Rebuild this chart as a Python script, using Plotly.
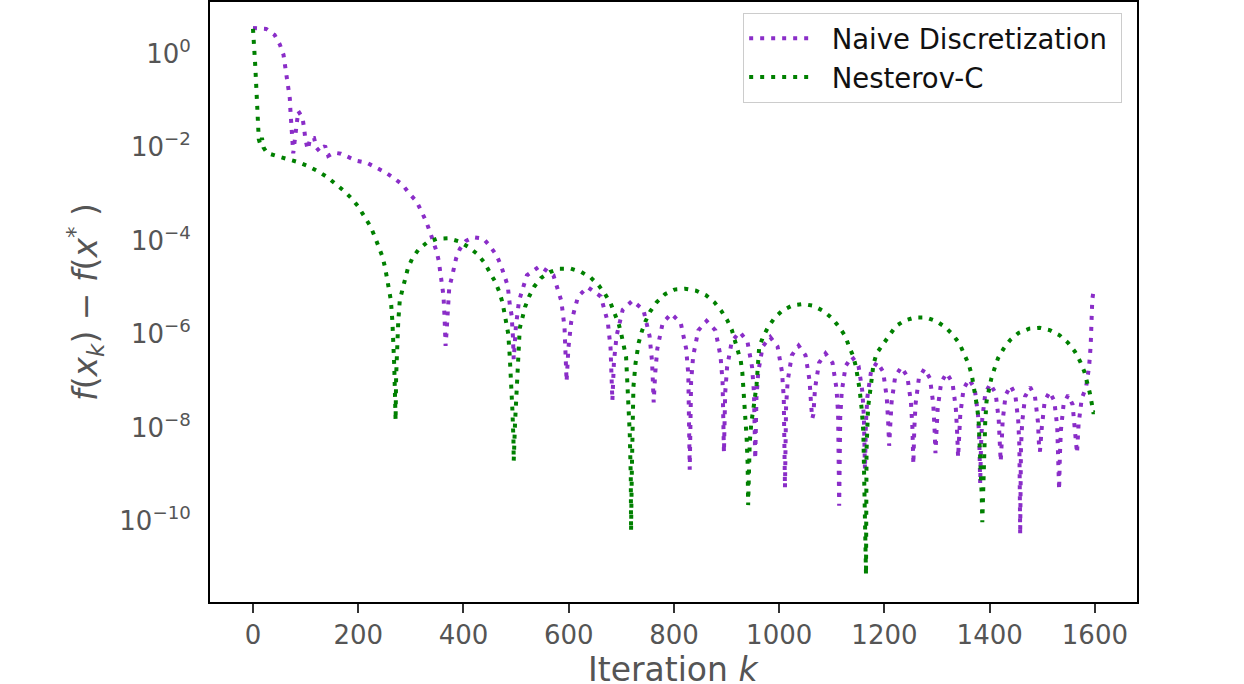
import plotly.graph_objects as go

# ---- data ----
naive_k = [0, 25, 41, 51, 58, 61, 65, 67, 70, 71, 72, 73.5, 75, 76.5,
           86, 94, 97, 99.5, 104, 109, 116, 121, 127, 137, 143, 154, 167, 182, 197,
           216, 234, 251, 267, 284, 297, 311, 320, 329, 336, 343, 349, 353, 356, 359,
           362, 364, 365, 366,
           368, 370, 373, 378, 386, 393, 405, 419, 438, 450, 462.5, 471, 477, 484, 488, 491.5, 494, 495.5,
           499.5, 505.5, 520.5, 545, 571, 586, 592, 596,
           599.5, 604.7, 617.8, 636, 661, 674.3, 679.5, 683,
           686, 691, 702.6, 721, 742, 753.6, 758.4, 761.5,
           764.2, 768.4, 778.6, 795, 812.9, 823.2, 827.3, 830,
           832.6, 836.5, 846.3, 862, 878.8, 888.5, 892.4, 895,
           897.4, 901, 909.9, 925, 939.6, 948.5, 952.1, 954.5,
           956.8, 960.2, 968.6, 983, 996.9, 1005.4, 1008.7, 1011,
           1013.1, 1016.2, 1024, 1037, 1050, 1057.8, 1060.9, 1063,
           1065, 1068.1, 1075.8, 1088, 1101.3, 1108.9, 1112, 1114,
           1116, 1118.9, 1126.3, 1138, 1150.8, 1158.1, 1161, 1163,
           1164.8, 1167.6, 1174.5, 1186, 1197.5, 1204.4, 1207.2, 1209,
           1210.8, 1213.6, 1220.5, 1232, 1243.5, 1250.4, 1253.2, 1255,
           1256.7, 1259.2, 1265.5, 1276, 1286.5, 1292.8, 1295.3, 1297,
           1298.7, 1301.3, 1307.8, 1318, 1329.3, 1335.7, 1338.3, 1340,
           1341.7, 1344.2, 1350.5, 1361, 1371.5, 1377.8, 1380.3, 1382,
           1383.6, 1385.9, 1391.8, 1401, 1411.3, 1417.1, 1419.4, 1421,
           1422.5, 1424.7, 1430.3, 1440, 1448.8, 1454.3, 1456.5, 1458,
           1459.5, 1461.8, 1467.4, 1477, 1486.1, 1491.8, 1494, 1495.5,
           1499.2, 1504.6, 1514, 1522.9, 1528.4, 1530.5, 1532,
           1533.4, 1535.4, 1540.5, 1549, 1557.5, 1562.6, 1566,
           1569, 1575, 1583, 1589, 1592, 1595, 1598]
naive_f = [4.5, 4.3, 3.2, 2.0, 1.2, 0.70, 0.42, 0.24, 0.14, 0.082, 0.048, 0.028, 0.016, 0.0094,
           0.075, 0.055, 0.033, 0.019, 0.0113, 0.020, 0.020, 0.0122, 0.0102, 0.0136, 0.0083, 0.0097, 0.0092, 0.0079, 0.0065,
           0.0059, 0.0047, 0.0037, 0.0028, 0.0020, 0.0013, 8.7e-4, 5.4e-4, 3.3e-4, 2.0e-4, 1.2e-4, 7.4e-5, 4.7e-5, 2.9e-5, 1.73e-5,
           8.5e-6, 3.0e-6, 1.3e-6, 7.1e-7,
           1.5e-6, 4.0e-6, 1.28e-5, 2.1e-5, 5.3e-5, 8.4e-5, 1.26e-4, 1.5e-4, 1.4e-4, 9.8e-5, 6.3e-5, 3.8e-5, 2.3e-5, 1.4e-5, 5.5e-6, 3.2e-6, 1.12e-6, 3.7e-7,
           1.8e-6, 6.5e-6, 2.3e-5, 3.63e-5, 2.3e-5, 6.5e-6, 1.8e-6, 1.23e-7,
           6.5e-7, 2.3e-6, 8.1e-6, 1.29e-5, 8.1e-6, 2.3e-6, 6.5e-7, 4.8e-8,
           3.3e-7, 1.17e-6, 4.2e-6, 6.6e-6, 4.2e-6, 1.17e-6, 3.3e-7, 4.4e-8,
           1.74e-7, 6.2e-7, 2.2e-6, 3.47e-6, 2.2e-6, 6.2e-7, 1.74e-7, 1.6e-9,
           1.22e-7, 4.3e-7, 1.53e-6, 2.43e-6, 1.53e-6, 4.3e-7, 1.22e-7, 3.7e-9,
           7.1e-8, 2.5e-7, 8.9e-7, 1.41e-6, 8.9e-7, 2.5e-7, 7.1e-8, 2.7e-9,
           5.5e-8, 1.96e-7, 6.9e-7, 1.1e-6, 6.9e-7, 1.96e-7, 5.5e-8, 6.6e-10,
           3.6e-8, 1.28e-7, 4.5e-7, 7.2e-7, 4.5e-7, 1.28e-7, 3.6e-8, 2.0e-8,
           2.45e-8, 8.7e-8, 3.1e-7, 4.9e-7, 3.1e-7, 8.7e-8, 2.45e-8, 2.7e-10,
           2.1e-8, 7.5e-8, 2.65e-7, 4.2e-7, 2.65e-7, 7.5e-8, 2.1e-8, 1.6e-9,
           1.6e-8, 5.7e-8, 2.0e-7, 3.2e-7, 2.0e-7, 5.7e-8, 1.6e-8, 5.2e-9,
           1.25e-8, 4.45e-8, 1.58e-7, 2.5e-7, 1.58e-7, 4.45e-8, 1.25e-8, 2.1e-9,
           1.15e-8, 4.1e-8, 1.45e-7, 2.3e-7, 1.45e-7, 4.1e-8, 1.15e-8, 3.6e-9,
           9.3e-9, 3.3e-8, 1.17e-7, 1.86e-7, 1.17e-7, 3.3e-8, 9.3e-9, 2.95e-9,
           6.9e-9, 2.46e-8, 8.7e-8, 1.38e-7, 8.7e-8, 2.46e-8, 6.9e-9, 8.1e-10,
           5.5e-9, 1.96e-8, 6.9e-8, 1.1e-7, 6.9e-8, 1.96e-8, 5.5e-9, 2.4e-9,
           5.0e-9, 1.78e-8, 6.3e-8, 1.0e-7, 6.3e-8, 1.78e-8, 5.0e-9, 6.5e-11,
           4.65e-9, 1.66e-8, 5.9e-8, 9.3e-8, 5.9e-8, 1.66e-8, 4.65e-9, 3.9e-9,
           1.32e-8, 4.7e-8, 7.4e-8, 4.7e-8, 1.32e-8, 3.7e-9, 5.9e-10,
           3.15e-9, 1.12e-8, 4.0e-8, 6.3e-8, 4.0e-8, 1.12e-8, 3.6e-9,
           1.5e-8, 5.4e-8, 9.0e-8, 2.6e-7, 7.3e-7, 6.9e-6, 1.2e-5]

nesterov_k = [0, 2, 4, 6, 7.5, 9, 11, 14, 17, 20, 23, 27,
              45, 65, 85, 104, 123, 141, 157, 173, 188, 201, 212, 223, 231, 239,
              246, 251, 255, 259, 262, 265, 267, 268.5, 270, 271,
              272, 273, 274.5, 276, 279, 284, 288, 294.5, 303, 315, 331, 350, 371, 391, 410, 426,
              439, 450, 460, 468, 474, 478, 482, 485, 488, 491, 493, 495, 495.5,
              498, 501, 504, 507, 512, 517, 524.5, 534, 547, 564, 583, 604, 624, 642, 657, 669,
              680, 688, 695, 700, 704, 709, 711, 713, 716, 718, 718.5,
              720, 723, 727, 733, 739, 746, 755, 767, 783, 801, 821, 842, 861, 877, 890, 901,
              910, 916, 922, 927, 930, 933, 936, 938, 940, 941,
              944, 947, 952, 957, 962, 970, 979, 991, 1006.5, 1025.5, 1046, 1066, 1085, 1101, 1114,
              1125.5, 1133, 1141, 1146, 1150, 1153, 1157, 1160, 1161, 1163, 1165,
              1166, 1169, 1174, 1179, 1185, 1198, 1208.5, 1222, 1239, 1258.5, 1279, 1299, 1316, 1331,
              1343, 1352, 1360, 1366, 1370, 1374, 1376, 1379, 1380, 1381, 1383, 1385, 1386,
              1389, 1391.5, 1394, 1398, 1403, 1409, 1416, 1426.5, 1439, 1455, 1475, 1495, 1514,
              1533, 1549, 1562, 1572, 1580, 1585, 1590, 1594, 1597, 1600]
nesterov_f = [4.3, 2.4, 0.81, 0.285, 0.096, 0.033, 0.0187, 0.0145, 0.020, 0.0125, 0.011, 0.0095,
              0.0082, 0.0071, 0.0061, 0.0050, 0.0039, 0.0029, 0.0021, 0.00147, 0.0010, 6.6e-4, 4.1e-4, 2.6e-4, 1.6e-4, 9.8e-5,
              5.8e-5, 3.4e-5, 2.0e-5, 1.2e-5, 6.8e-6, 2.3e-6, 8.1e-7, 2.6e-7, 5.4e-8, 1.8e-8,
              1.6e-7, 4.2e-7, 8.1e-7, 2.3e-6, 6.8e-6, 1.15e-5, 1.95e-5, 3.3e-5, 5.4e-5, 8.3e-5, 1.17e-4, 1.4e-4, 1.43e-4, 1.23e-4, 9.2e-5, 6.6e-5,
              4.4e-5, 2.75e-5, 1.7e-5, 1.03e-5, 6.1e-6, 3.55e-6, 2.2e-6, 1.3e-6, 4.2e-7, 1.3e-7, 3.0e-8, 6.9e-9, 2.45e-9,
              1.6e-8, 1.1e-7, 5.8e-7, 1.7e-6, 2.85e-6, 4.8e-6, 8.0e-6, 1.3e-5, 2.0e-5, 2.7e-5, 3.2e-5, 3.2e-5, 2.7e-5, 2.05e-5, 1.4e-5, 9.2e-6,
              5.7e-6, 3.5e-6, 2.1e-6, 1.26e-6, 7.3e-7, 4.2e-7, 1.45e-7, 5.0e-8, 9.6e-9, 1.1e-9, 7.8e-11,
              1.6e-9, 9.5e-8, 3.0e-7, 8.3e-7, 1.46e-6, 2.4e-6, 3.9e-6, 6.1e-6, 9.1e-6, 1.14e-5, 1.19e-5, 1.08e-5, 8.6e-6, 6.1e-6, 4.0e-6, 2.55e-6,
              1.56e-6, 9.4e-7, 5.6e-7, 3.4e-7, 1.9e-7, 6.4e-8, 2.2e-8, 8.1e-9, 2.2e-9, 2.8e-10,
              6.0e-9, 1.6e-8, 3.9e-8, 1.04e-7, 6.8e-7, 1.15e-6, 1.8e-6, 2.8e-6, 4.1e-6, 5.25e-6, 5.6e-6, 5.1e-6, 3.9e-6, 2.75e-6, 1.8e-6,
              1.16e-6, 6.8e-7, 4.2e-7, 2.5e-7, 1.45e-7, 8.1e-8, 3.0e-8, 1.0e-8, 2.2e-9, 1.6e-10, 8.9e-12,
              4.2e-9, 3.5e-8, 9.5e-8, 2.8e-7, 4.9e-7, 7.8e-7, 1.23e-6, 1.9e-6, 2.5e-6, 2.9e-6, 2.9e-6, 2.4e-6, 1.78e-6, 1.2e-6,
              7.8e-7, 4.8e-7, 2.9e-7, 1.7e-7, 9.9e-8, 5.9e-8, 3.6e-8, 1.85e-8, 1.1e-8, 4.2e-9, 1.1e-9, 4.2e-10, 1.2e-10,
              5.9e-9, 1.6e-8, 4.6e-8, 8.1e-8, 1.4e-7, 2.3e-7, 3.9e-7, 6.2e-7, 9.5e-7, 1.35e-6, 1.66e-6, 1.74e-6, 1.55e-6,
              1.2e-6, 8.3e-7, 5.4e-7, 3.3e-7, 2.0e-7, 1.23e-7, 7.3e-8, 4.2e-8, 2.7e-8, 2.7e-8]

x_tick_vals = [0, 200, 400, 600, 800, 1000, 1200, 1400, 1600]
y_tick_vals = [1e0, 1e-2, 1e-4, 1e-6, 1e-8, 1e-10]
y_tick_text = ["10<sup>0</sup>", "10<sup>−2</sup>", "10<sup>−4</sup>",
               "10<sup>−6</sup>", "10<sup>−8</sup>", "10<sup>−10</sup>"]

series_names = ["Naive Discretization", "Nesterov-C"]
series_colors = ["#8a2dc8", "#008000"]
x_title = "Iteration <i>k</i>"

FONT = "DejaVu Sans"
NB = "\u00a0"
fig = go.Figure()
for name, xs, ys, col in [(series_names[0], naive_k, naive_f, series_colors[0]),
                          (series_names[1], nesterov_k, nesterov_f, series_colors[1])]:
    fig.add_trace(go.Scatter(x=xs, y=ys, mode="lines", name=NB + NB + name + NB,
                             line=dict(color=col, width=4, dash="4px,7px")))

fig.update_layout(
    width=1244, height=684,
    margin=dict(l=210, r=107, t=2, b=82),
    paper_bgcolor="white", plot_bgcolor="white",
    font=dict(family=FONT, color="#555555"),
    showlegend=True,
    legend=dict(x=0.984, y=0.982, xanchor="right", yanchor="top",
                bgcolor="white", bordercolor="#cccccc", borderwidth=1,
                font=dict(family=FONT, size=27.5, color="#111111"),
                itemwidth=60),
    annotations=[dict(text=x_title, xref="paper", yref="paper", x=0.5, y=-0.113,
                      xanchor="center", yanchor="middle", showarrow=False,
                      font=dict(family=FONT, size=33, color="#555555"))],
)
fig.update_xaxes(
    automargin=False,
    range=[-81.7, 1680], tickvals=x_tick_vals,
    showgrid=False, zeroline=False,
    showline=True, linecolor="black", linewidth=2, mirror=True,
    ticks="outside", ticklen=9, tickwidth=1.5, tickcolor="#333333",
    tickfont=dict(family=FONT, size=26, color="#555555"),
)
fig.update_yaxes(
    automargin=False,
    type="log", range=[-11.626, 1.209],
    tickvals=y_tick_vals, ticktext=y_tick_text,
    showgrid=False, zeroline=False,
    showline=True, linecolor="black", linewidth=2, mirror=True,
    ticks="outside", ticklen=12, tickcolor="rgba(0,0,0,0)",
    ticklabelshift=-5,
    tickfont=dict(family=FONT, size=26, color="#555555"),
    title=dict(text="<i>f</i>(<i>x</i><sub><i>k</i></sub>) − <i>f</i>(<i>x</i><sup>*</sup>" + NB + ")",
               font=dict(family=FONT, size=33, color="#555555"), standoff=12),
)

fig.write_html("out.html", config={"displayModeBar": False},
               post_script="document.body.style.margin='0';")
